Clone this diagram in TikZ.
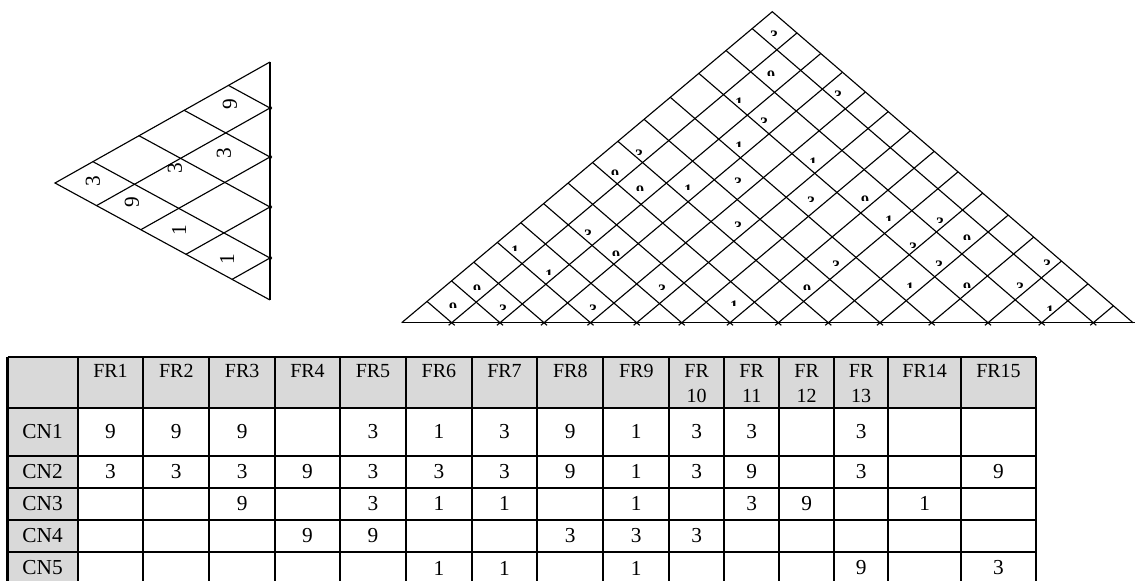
\documentclass[tikz,border=0pt]{standalone}
\usepackage{fontspec}
\setmainfont{Liberation Serif}
\usetikzlibrary{calc}

\definecolor{hdrgray}{HTML}{D9D9D9}

\tikzset{
  % Roof lines
  roofline/.style={draw=black, line width=0.85pt},
  roofbase/.style={draw=black, line width=1.1pt},
  % Numbers in the roofs
  roofnum/.style={font=\fontsize{16}{19}\selectfont, inner sep=0pt, rotate=90},
  cutnum/.style={font=\fontsize{12}{14}\selectfont\bfseries, inner sep=0pt, anchor=base},
  % Table
  tabline/.style={draw=black, line width=1.6pt},
  hdrlabel/.style={font=\fontsize{15}{18.75}\selectfont, align=center, anchor=north, inner sep=0pt},
  celllabel/.style={font=\fontsize{16}{19}\selectfont, inner sep=0pt},
}

\begin{document}
\begin{tikzpicture}[x=0.75pt, y=-0.75pt]
  \useasboundingbox (0,0) rectangle (1135,581);

  % --- SMALL ROOF (CN) ---
  \coordinate (s-top) at (270,62);
  \coordinate (s-left) at (55,183);
  \coordinate (s-bot) at (270,300);
  \draw[roofline] (s-top) -- (s-left) -- (s-bot);
  \draw[roofbase] (s-top) -- (s-bot);
  \foreach \yy [count=\k] in {108,157,207,258}{
    \pgfmathsetmacro\ta{(300-\yy)/238}
    \pgfmathsetmacro\tb{(\yy-62)/238}
    \coordinate (sq\k) at (270,\yy);
    \coordinate (sa\k) at ($(sq\k)+(s-left)-(s-top)$);
    \coordinate (sb\k) at ($(sq\k)+(s-left)-(s-bot)$);
    \draw[roofline] ($(sq\k)!-1.5pt!(sa\k)$) -- ($(sq\k)!\ta!(sa\k)$);
    \draw[roofline] ($(sq\k)!-1.5pt!(sb\k)$) -- ($(sq\k)!\tb!(sb\k)$);
  }
  \foreach \px/\py/\d [count=\n] in {93/181/3, 132/202/9, 175/168/3, 179/230/1,
      224/153/3, 230/104/9, 227/259/1}
    \node[roofnum] (sn\n) at (\px,\py) {\d};

  % --- BIG ROOF (FR) ---
  \coordinate (b-left) at (401.7,322.7);
  \coordinate (b-top) at (772.3,11.7);
  \coordinate (b-right) at (1133,322.7);
  \coordinate (b-end) at (1135,322.7);
  \draw[roofline] (b-left) -- (b-top) -- (b-right);
  \draw[roofbase] (b-left) -- (b-end);
  \foreach \xx [count=\k] in {451.7,500,544,590.5,636.7,681.7,730,778.3,828.3,
      880,931.7,988,1041.7,1093.3}{
    \pgfmathsetmacro\ta{(1133-\xx)/731.3}
    \pgfmathsetmacro\tb{(\xx-401.7)/731.3}
    \coordinate (bq\k) at (\xx,322.7);
    \coordinate (bu\k) at ($(bq\k)+(b-top)-(b-left)$);
    \coordinate (bv\k) at ($(bq\k)+(b-top)-(b-right)$);
    \draw[roofline] ($(bq\k)!-3pt!(bu\k)$) -- ($(bq\k)!\ta!(bu\k)$);
    \draw[roofline] ($(bq\k)!-3pt!(bv\k)$) -- ($(bq\k)!\tb!(bv\k)$);
  }
  % numbers only half shown
  \foreach \px/\py/\d [count=\n] in {453/305/9, 477/287/9, 503/307/3, 515/248/1,
      549/272/1, 588/232/3, 616/253/9, 593/307/3, 662/287/3, 734/303/1,
      639/152/3, 615/172/9, 640/188/9, 688/187/1, 738/180/3, 739/144/1,
      764/120/3, 739/100/1, 771/73/9, 774/33/3, 738/224/3, 838/93/3,
      813/160/1, 811/199/3, 865/198/9, 889/218/1, 836/263/3, 807/287/9,
      940/220/3, 967/237/9, 913/245/3, 939/263/3, 910/285/1, 967/285/9,
      1047/262/3, 1020/285/3, 1050/308/1}{
    \begin{scope}
      \clip (\px-8,\py-9) rectangle (\px+8,\py+2.9);
      \node[cutnum] (bn\n) at (\px,\py+8.1) {\d};
    \end{scope}
  }

  % --- TABLE ---
  \def\colx{{110.5,176.3,242.2,307.5,373,438.9,504.5,570.3,636.3,696.7,751.7,806.7,861.2,924.7,998.5}}
  \def\rowy{{431.85,471.85,503.85,536,568}}
  \fill[hdrgray] (7.5,357) rectangle (1036,407.7);
  \fill[hdrgray] (7.5,407.7) rectangle (77.7,584);
  \foreach \xx in {7.5,77.7,143.3,209.3,275,340,406,471.7,537.3,603.3,669.3,
      724,779.3,834,888.3,961,1036}
    \draw[tabline] (\xx,357) -- (\xx,584);
  \foreach \yy in {357,407.7,456,487.7,520,552,584}
    \draw[tabline] (7.5,\yy) -- (1036,\yy);

  % header
  \foreach \lab [count=\c] in {FR1,FR2,FR3,FR4,FR5,FR6,FR7,FR8,FR9,
      {FR\\10},{FR\\11},{FR\\12},{FR\\13},FR14,FR15}{
    \pgfmathsetmacro\cx{\colx[\c-1]}
    \node[hdrlabel] (fr\c) at (\cx,364) {\lab};
  }
  \foreach \r in {1,...,5}{
    \pgfmathsetmacro\cy{\rowy[\r-1]}
    \node[celllabel] (cn\r) at (42.6,\cy) {CN\r};
  }
  % entries: column/row/value
  \foreach \c/\r/\v in {1/1/9, 2/1/9, 3/1/9, 5/1/3, 6/1/1, 7/1/3, 8/1/9, 9/1/1,
      10/1/3, 11/1/3, 13/1/3,
      1/2/3, 2/2/3, 3/2/3, 4/2/9, 5/2/3, 6/2/3, 7/2/3, 8/2/9, 9/2/1, 10/2/3,
      11/2/9, 13/2/3, 15/2/9,
      3/3/9, 5/3/3, 6/3/1, 7/3/1, 9/3/1, 11/3/3, 12/3/9, 14/3/1,
      4/4/9, 5/4/9, 8/4/3, 9/4/3, 10/4/3,
      6/5/1, 7/5/1, 9/5/1, 13/5/9, 15/5/3}{
    \pgfmathsetmacro\cx{\colx[\c-1]}
    \pgfmathsetmacro\cy{\rowy[\r-1]}
    \node[celllabel] (v-\r-\c) at (\cx,\cy) {\v};
  }
\end{tikzpicture}
\end{document}
